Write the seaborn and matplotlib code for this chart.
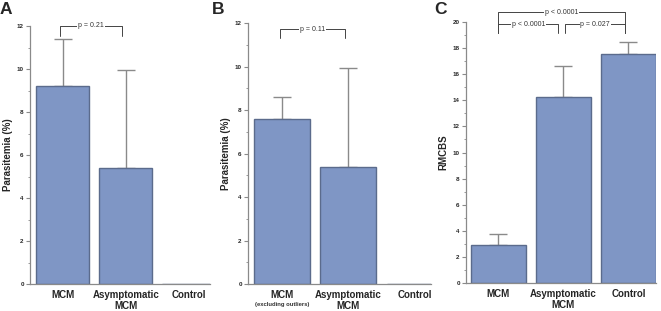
import numpy as np
import pandas as pd
import seaborn as sns
import matplotlib.pyplot as plt
from matplotlib.ticker import MultipleLocator

# valores
grupos = ['MCM', 'Asymptomatic\nMCM', 'Control']
parasitemia_a = [9.2, 5.4, 0]
parasitemia_a_sup = [11.4, 9.95, 0]
parasitemia_b = [7.6, 5.4, 0]
parasitemia_b_sup = [8.6, 9.95, 0]
rmcbs = [2.95, 14.25, 17.55]
rmcbs_sup = [3.75, 16.65, 18.45]

sns.set_style('white')
plt.rcParams['font.family'] = ['Liberation Sans', 'DejaVu Sans']

color_barra = '#7f96c5'
color_borde = '#5b6b8c'
color_gris = '#8a8a8a'

fig = plt.figure(figsize=(6.61, 3.11), dpi=100)
ax_a = fig.add_axes([0.0454, 0.0868, 0.2726, 0.8296])
ax_b = fig.add_axes([0.3752, 0.0868, 0.2768, 0.8392])
ax_c = fig.add_axes([0.705, 0.090, 0.287, 0.839])


def dibujar(ax, valores, superior, ymax, ylabel, xlim, n_barras):
    df = pd.DataFrame({'grupo': grupos, 'valor': valores})
    sns.barplot(data=df, x='grupo', y='valor', color=color_barra, width=0.84,
                saturation=1, edgecolor=color_borde, linewidth=1.0, ax=ax)
    x = np.arange(n_barras)
    v = np.array(valores[:n_barras])
    s = np.array(superior[:n_barras])
    ax.errorbar(x, v, yerr=[np.zeros(n_barras), s - v], fmt='none',
                ecolor=color_gris, elinewidth=1.0, capsize=6.5, capthick=1.0,
                zorder=0)
    ax.set_ylim(0, ymax)
    ax.set_xlim(*xlim)
    ax.yaxis.set_major_locator(MultipleLocator(2))
    ax.yaxis.set_minor_locator(MultipleLocator(1))
    ax.tick_params(axis='y', which='major', length=3, width=0.8, color=color_gris,
                   labelsize=4.5, pad=1.5, left=True)
    ax.tick_params(axis='y', which='minor', length=1.5, width=0.6, color=color_gris,
                   left=True)
    ax.tick_params(axis='x', length=0, labelsize=7, pad=4)
    for lab in ax.get_yticklabels():
        lab.set_fontweight('bold')
    for lab in ax.get_xticklabels():
        lab.set_fontweight('bold')
    ax.set_xlabel('')
    ax.set_ylabel(ylabel, fontsize=7, fontweight='bold', labelpad=3)
    for lado in ['top', 'right']:
        ax.spines[lado].set_visible(False)
    for lado in ['left', 'bottom']:
        ax.spines[lado].set_color(color_gris)
        ax.spines[lado].set_linewidth(0.9)


def corchete(ax, x1, x2, y, y_pata, texto):
    ax.plot([x1, x1, x2, x2], [y_pata, y, y, y_pata], color='#444444',
            lw=0.7, clip_on=False)
    ax.text((x1 + x2) / 2, y, texto, ha='center', va='center', fontsize=5,
            color='#333333',
            bbox=dict(facecolor='white', edgecolor='none', pad=0.6))


dibujar(ax_a, parasitemia_a, parasitemia_a_sup, 12, 'Parasitemia (%)', (-0.52, 2.34), 2)
dibujar(ax_b, parasitemia_b, parasitemia_b_sup, 12, 'Parasitemia (%)', (-0.51, 2.25), 2)
dibujar(ax_c, rmcbs, rmcbs_sup, 20, 'RMCBS', (-0.5, 2.42), 3)

# etiqueta extra en B
ax_b.text(0, -0.08, '(excluding outliers)', transform=ax_b.get_xaxis_transform(),
          ha='center', va='center', fontsize=4.2, fontweight='bold', color='#333333')

corchete(ax_a, -0.04, 0.94, 12.0, 11.53, 'p = 0.21')
corchete(ax_b, -0.03, 0.95, 11.72, 11.31, 'p = 0.11')
corchete(ax_c, 0.0, 0.92, 19.85, 19.16, 'p < 0.0001')
corchete(ax_c, 1.03, 1.95, 19.85, 19.16, 'p = 0.027')
corchete(ax_c, 0.0, 1.95, 20.77, 19.16, 'p < 0.0001')

fig.text(0.0, 0.971, 'A', fontsize=12.5, fontweight='bold', va='center')
fig.text(0.320, 0.971, 'B', fontsize=12.5, fontweight='bold', va='center')
fig.text(0.657, 0.971, 'C', fontsize=12.5, fontweight='bold', va='center')

fig.savefig('out.png', dpi=100)
